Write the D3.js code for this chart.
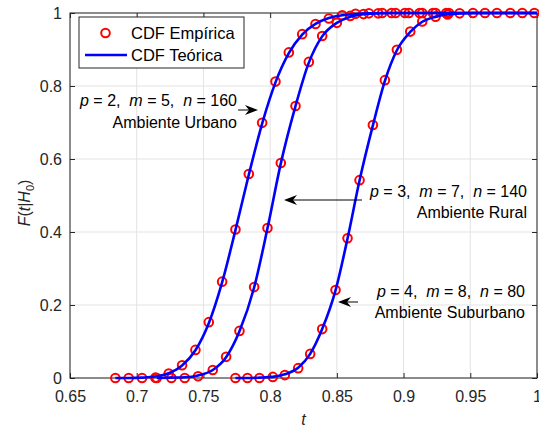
<!DOCTYPE html>
<html>
<head>
<meta charset="utf-8">
<script src="https://cdn.jsdelivr.net/npm/d3@7"></script>
<style>
  html, body { margin: 0; padding: 0; background: #fff; }
  svg { display: block; font-family: "Liberation Sans", Arial, Helvetica, sans-serif; }
</style>
</head>
<body>
<svg id="chart" width="539" height="428"></svg>
<script>
// ---------------- data ----------------
const xTicks = [0.65, 0.7, 0.75, 0.8, 0.85, 0.9, 0.95, 1];
const xTickLabels = ["0.65", "0.7", "0.75", "0.8", "0.85", "0.9", "0.95", "1"];
const yTicks = [0, 0.2, 0.4, 0.6, 0.8, 1];
const yTickLabels = ["0", "0.2", "0.4", "0.6", "0.8", "1"];

// Ambiente Urbano (p=2, m=5, n=160)
const tUrb = [0.684,0.694,0.704,0.714,0.724,0.734,0.744,0.754,0.764,0.774,0.784,0.794,0.804,0.814,0.824,0.834,0.844,0.854,0.864,0.874,0.884,0.894,0.904,0.914,0.924,0.934];
const empUrb = [0,0,0,0.001,0.012,0.035,0.077,0.153,0.264,0.407,0.559,0.699,0.812,0.892,0.942,0.970,0.985,0.994,0.998,0.999,1,1,1,1,1,1];
const tUrbTeo = [0.684,0.694,0.704,0.714,0.724,0.734,0.744,0.754,0.764,0.774,0.784,0.794,0.804,0.814,0.824,0.834,0.844,0.854,0.864,0.874,0.884,0.934,1.0];
const teoUrb = [0,0,0.001,0.004,0.013,0.034,0.076,0.150,0.262,0.405,0.557,0.697,0.810,0.890,0.941,0.970,0.986,0.994,0.997,0.999,1,1,1];

// Ambiente Rural (p=3, m=7, n=140)
const tRur = [0.715,0.726,0.736,0.746,0.757,0.767,0.777,0.788,0.798,0.808,0.819,0.829,0.839,0.850,0.860,0.870,0.881,0.891,0.901,0.912,0.922,0.932];
const empRur = [0,0,0,0.005,0.022,0.058,0.129,0.249,0.411,0.589,0.745,0.866,0.937,0.973,0.992,0.997,0.999,1,1,1,1,1];
const tRurTeo = [0.715,0.726,0.736,0.746,0.757,0.767,0.777,0.788,0.798,0.808,0.819,0.829,0.839,0.850,0.860,0.870,0.881,0.891,0.932,1.0];
const teoRur = [0,0.001,0.002,0.007,0.022,0.057,0.128,0.248,0.410,0.588,0.745,0.864,0.936,0.973,0.990,0.997,0.999,1,1,1];

// Ambiente Suburbano (p=4, m=8, n=80)
const tSub = [0.774,0.783,0.792,0.802,0.811,0.821,0.830,0.839,0.849,0.858,0.867,0.877,0.886,0.895,0.905,0.914,0.924,0.933,0.942,0.952,0.961,0.970,0.980,0.989,0.998];
const empSub = [0,0,0,0.003,0.008,0.027,0.066,0.134,0.241,0.383,0.542,0.693,0.816,0.899,0.949,0.977,0.990,0.996,0.999,1,1,1,1,1,1];
const tSubTeo = [0.774,0.783,0.792,0.802,0.811,0.821,0.830,0.839,0.849,0.858,0.867,0.877,0.886,0.895,0.905,0.914,0.924,0.933,0.942,0.952,1.0];
const teoSub = [0,0,0.001,0.003,0.010,0.028,0.066,0.134,0.240,0.382,0.541,0.692,0.814,0.898,0.948,0.976,0.990,0.996,0.999,1,1];

const legendLabels = ["CDF Empírica", "CDF Teórica"];
const annotations = [
  { p: "2", m: "5", n: "160", env: "Ambiente Urbano" },
  { p: "3", m: "7", n: "140", env: "Ambiente Rural" },
  { p: "4", m: "8", n: "80",  env: "Ambiente Suburbano" }
];

// ---------------- layout ----------------
const L = 70, R = 537, T = 13, B = 378;
const axisColor = "#262626";
const gridColor = "#e3e3e3";
const fontSize = 16;

const svg = d3.select("#chart");
const x = d3.scaleLinear().domain([0.65, 1]).range([L, R]);
const y = d3.scaleLinear().domain([0, 1]).range([B, T]);

// grid
const grid = svg.append("g");
grid.selectAll("line.gx").data(xTicks).join("line")
  .attr("x1", d => x(d)).attr("x2", d => x(d)).attr("y1", T).attr("y2", B)
  .attr("stroke", gridColor).attr("stroke-width", 1);
grid.selectAll("line.gy").data(yTicks).join("line")
  .attr("x1", L).attr("x2", R).attr("y1", d => y(d)).attr("y2", d => y(d))
  .attr("stroke", gridColor).attr("stroke-width", 1);

// axes
function styleAxis(g) {
  g.select(".domain").remove();
  g.selectAll(".tick line").attr("stroke", axisColor);
  g.selectAll(".tick text").attr("fill", axisColor)
    .attr("font-size", fontSize).attr("font-family", '"Liberation Sans", Arial, sans-serif');
}
svg.append("g").attr("transform", `translate(0,${B})`)
  .call(d3.axisBottom(x).tickValues(xTicks).tickFormat((d, i) => xTickLabels[i])
    .tickSizeInner(-5).tickSizeOuter(0).tickPadding(13))
  .call(styleAxis);
svg.append("g").attr("transform", `translate(0,${T})`)
  .call(d3.axisTop(x).tickValues(xTicks).tickFormat("").tickSizeInner(-5).tickSizeOuter(0))
  .call(styleAxis);
svg.append("g").attr("transform", `translate(${L},0)`)
  .call(d3.axisLeft(y).tickValues(yTicks).tickFormat((d, i) => yTickLabels[i])
    .tickSizeInner(-5).tickSizeOuter(0).tickPadding(8))
  .call(styleAxis);
svg.append("g").attr("transform", `translate(${R},0)`)
  .call(d3.axisRight(y).tickValues(yTicks).tickFormat("").tickSizeInner(-5).tickSizeOuter(0))
  .call(styleAxis);

svg.append("rect").attr("x", L).attr("y", T).attr("width", R - L).attr("height", B - T)
  .attr("fill", "none").attr("stroke", axisColor).attr("stroke-width", 1);

// axis labels
svg.append("text").attr("x", (L + R) / 2).attr("y", 425)
  .attr("text-anchor", "middle").attr("font-size", fontSize).attr("font-style", "italic")
  .attr("fill", axisColor).text("t");

const yl = svg.append("text").attr("transform", "translate(30,203) rotate(-90)")
  .attr("text-anchor", "middle").attr("font-size", fontSize).attr("fill", axisColor);
yl.append("tspan").attr("font-style", "italic").text("F");
yl.append("tspan").text("(");
yl.append("tspan").attr("font-style", "italic").text("t");
yl.append("tspan").text("|");
yl.append("tspan").attr("font-style", "italic").text("H");
yl.append("tspan").attr("font-size", 11).attr("dy", 4).text("0");
yl.append("tspan").attr("dy", -4).text(")");

// markers
const empSeries = [[tUrb, empUrb], [tRur, empRur], [tSub, empSub]];
const teoSeries = [[tUrbTeo, teoUrb], [tRurTeo, teoRur], [tSubTeo, teoSub]];

const marks = svg.append("g");
empSeries.forEach(([ts, fs]) => {
  marks.append("g").selectAll("circle").data(ts.map((t, i) => [t, fs[i]])).join("circle")
    .attr("cx", d => x(d[0])).attr("cy", d => y(d[1])).attr("r", 4.3)
    .attr("fill", "none").attr("stroke", "#ff0000").attr("stroke-width", 2);
});

const line = d3.line().x(d => x(d[0])).y(d => y(d[1])).curve(d3.curveMonotoneX);
teoSeries.forEach(([ts, fs]) => {
  svg.append("path").datum(ts.map((t, i) => [t, fs[i]]))
    .attr("d", line).attr("fill", "none").attr("stroke", "#0000ff").attr("stroke-width", 2.6);
});

// annotations
const annPos = [
  { xr: 237, y1: 106, y2: 128, tail: [238, 110], head: [258, 110] },
  { xr: 527, y1: 197, y2: 218, tail: [362, 200], head: [284, 200] },
  { xr: 525, y1: 297, y2: 318, tail: [358, 302], head: [338, 302] }
];
annotations.forEach((a, i) => {
  const p = annPos[i];
  const t1 = svg.append("text").attr("x", p.xr).attr("y", p.y1).attr("text-anchor", "end")
    .attr("font-size", fontSize).attr("fill", "#000");
  [["p", true], [" = " + a.p + ",  ", false], ["m", true], [" = " + a.m + ",  ", false], ["n", true], [" = " + a.n, false]]
    .forEach(([s, it]) => t1.append("tspan").attr("font-style", it ? "italic" : "normal").text(s));
  t1.attr("xml:space", "preserve");
  svg.append("text").attr("x", p.xr).attr("y", p.y2).attr("text-anchor", "end")
    .attr("font-size", fontSize).attr("fill", "#000").text(a.env);

  // arrow
  const [tx, ty] = p.tail, [hx, hy] = p.head;
  const dir = Math.sign(hx - tx);
  const len = 13, w = 5, notch = 9;
  svg.append("line").attr("x1", tx).attr("y1", ty).attr("x2", hx - dir * notch).attr("y2", hy)
    .attr("stroke", "#000").attr("stroke-width", 1);
  svg.append("path")
    .attr("d", `M${hx},${hy} L${hx - dir * len},${hy - w} L${hx - dir * notch},${hy} L${hx - dir * len},${hy + w} Z`)
    .attr("fill", "#000");
});

// legend
const lg = svg.append("g");
lg.append("rect").attr("x", 79).attr("y", 17).attr("width", 165).attr("height", 51)
  .attr("fill", "#fff").attr("stroke", axisColor).attr("stroke-width", 1);
lg.append("circle").attr("cx", 105.5).attr("cy", 33).attr("r", 4.3)
  .attr("fill", "none").attr("stroke", "#ff0000").attr("stroke-width", 2);
lg.append("line").attr("x1", 85).attr("x2", 127).attr("y1", 55).attr("y2", 55)
  .attr("stroke", "#0000ff").attr("stroke-width", 2.6);
lg.selectAll("text").data(legendLabels).join("text")
  .attr("x", 131).attr("y", (d, i) => 39 + i * 22)
  .attr("font-size", 16.5).attr("fill", "#000").text(d => d);
</script>
</body>
</html>
